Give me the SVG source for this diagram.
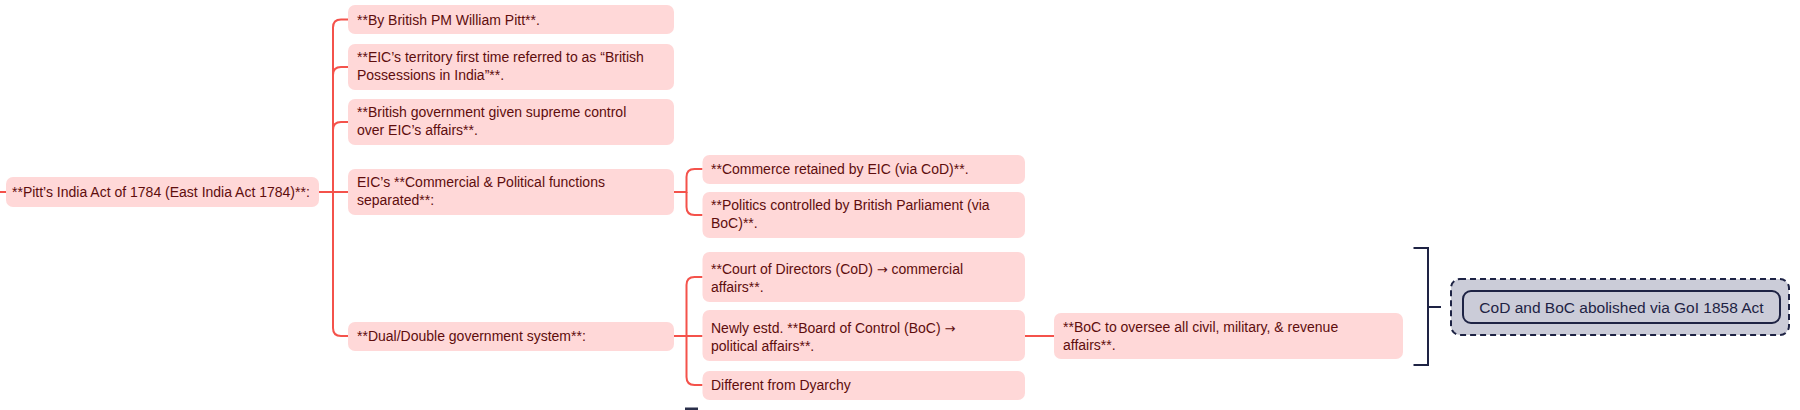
<svg xmlns="http://www.w3.org/2000/svg" width="1800" height="410" viewBox="0 0 1800 410">
<style>
.n{fill:#FFD8D8;}
.t{font-family:"Liberation Sans",Arial,sans-serif;font-size:14px;fill:#5E0D0D;}
.a{font-family:"DejaVu Sans",sans-serif;font-size:13px;}
.c{fill:none;stroke:#F4524B;stroke-width:2;}
.nv{fill:none;stroke:#1E2344;stroke-width:2;}
.tn{font-family:"Liberation Sans",Arial,sans-serif;font-size:15.5px;fill:#1E2344;}
</style>
<rect width="1800" height="410" fill="#FFFFFF"/>
<g id="connectors">
<path class="c" d="M0,192 H6"/>
<path class="c" d="M319,192 H333 V27.5 Q333,19.5 341,19.5 H348"/>
<path class="c" d="M333,75 Q333,67 341,67 H348"/>
<path class="c" d="M333,130 Q333,122 341,122 H348"/>
<path class="c" d="M333,192 H348"/>
<path class="c" d="M333,192 V328 Q333,336 341,336 H348"/>
<path class="c" d="M674,192 H686.5 V177 Q686.5,169 694.5,169 H702.5"/>
<path class="c" d="M686.5,192 V207 Q686.5,215 694.5,215 H702.5"/>
<path class="c" d="M674,336 H702.5"/>
<path class="c" d="M686.5,336 V285 Q686.5,277 694.5,277 H702.5"/>
<path class="c" d="M686.5,336 V377 Q686.5,385 694.5,385 H702.5"/>
<path class="c" d="M1025,336 H1054"/>
<path class="nv" d="M1413.5,248 H1428 V365 H1413.5 M1428,307 H1441"/>
</g>
<g id="root">
<rect class="n" x="6" y="177" width="313" height="30" rx="7"/>
<text class="t" x="12" y="197">**Pitt’s India Act of 1784 (East India Act 1784)**:</text>
</g>
<g id="n1">
<rect class="n" x="348" y="5" width="326" height="29" rx="7"/>
<text class="t" x="357" y="24.5">**By British PM William Pitt**.</text>
</g>
<g id="n2">
<rect class="n" x="348" y="44" width="326" height="46" rx="7"/>
<text class="t" x="357" y="62">**EIC’s territory first time referred to as “British</text>
<text class="t" x="357" y="80">Possessions in India”**.</text>
</g>
<g id="n3">
<rect class="n" x="348" y="99" width="326" height="46" rx="7"/>
<text class="t" x="357" y="117">**British government given supreme control</text>
<text class="t" x="357" y="135">over EIC’s affairs**.</text>
</g>
<g id="n4">
<rect class="n" x="348" y="169" width="326" height="46" rx="7"/>
<text class="t" x="357" y="187">EIC’s **Commercial &amp; Political functions</text>
<text class="t" x="357" y="205">separated**:</text>
</g>
<g id="n5">
<rect class="n" x="348" y="322" width="326" height="29" rx="7"/>
<text class="t" x="357" y="341">**Dual/Double government system**:</text>
</g>
<g id="c1">
<rect class="n" x="702.5" y="155" width="322.5" height="29" rx="7"/>
<text class="t" x="711" y="174">**Commerce retained by EIC (via CoD)**.</text>
</g>
<g id="c2">
<rect class="n" x="702.5" y="192" width="322.5" height="46" rx="7"/>
<text class="t" x="711" y="210">**Politics controlled by British Parliament (via</text>
<text class="t" x="711" y="228">BoC)**.</text>
</g>
<g id="d1">
<rect class="n" x="702.5" y="252" width="322.5" height="50" rx="7"/>
<text class="t" x="711" y="274">**Court of Directors (CoD) <tspan class="a">→</tspan> commercial</text>
<text class="t" x="711" y="292">affairs**.</text>
</g>
<g id="d2">
<rect class="n" x="702.5" y="310" width="322.5" height="51" rx="7"/>
<text class="t" x="711" y="333">Newly estd. **Board of Control (BoC) <tspan class="a">→</tspan></text>
<text class="t" x="711" y="351">political affairs**.</text>
</g>
<g id="d3">
<rect class="n" x="702.5" y="371" width="322.5" height="29" rx="7"/>
<text class="t" x="711" y="390">Different from Dyarchy</text>
</g>
<g id="e1">
<rect class="n" x="1054" y="313" width="349" height="46" rx="7"/>
<text class="t" x="1063" y="332">**BoC to oversee all civil, military, &amp; revenue</text>
<text class="t" x="1063" y="350">affairs**.</text>
</g>
<g id="summary">
<rect x="1451" y="279" width="338" height="56" rx="9" fill="#CBCCD8" stroke="#1E2344" stroke-width="2" stroke-dasharray="6 4"/>
<rect x="1463" y="291" width="317" height="32" rx="8" fill="#CBCCD8" stroke="#1E2344" stroke-width="2"/>
<text class="tn" x="1621.5" y="312.5" text-anchor="middle">CoD and BoC abolished via GoI 1858 Act</text>
</g>
<rect x="685" y="407.5" width="13" height="3" fill="#2A2F4A"/>
</svg>
